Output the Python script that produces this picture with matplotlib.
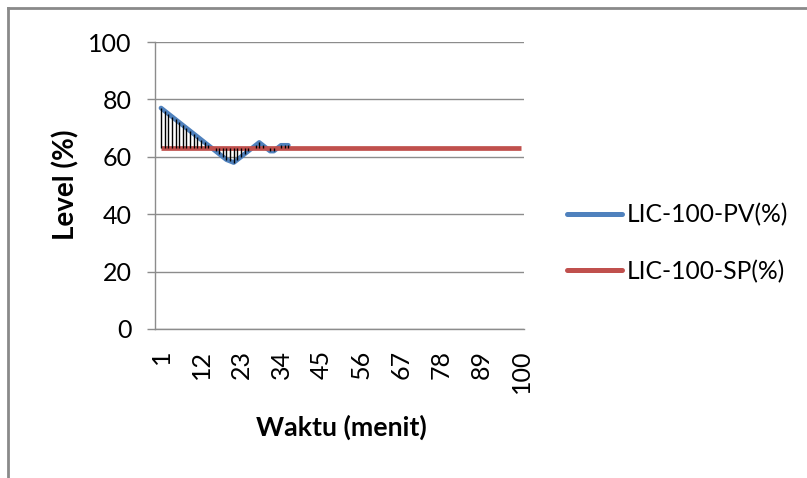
import matplotlib
matplotlib.use("Agg")
import matplotlib.pyplot as plt
from matplotlib.lines import Line2D

plt.rcParams['font.family'] = ['Lato', 'DejaVu Sans']

# Time axis in minutes
minutes = list(range(1, 101))

# Process value (level, %) recorded during the first minutes
pv_minutes = list(range(1, 37))
pv_values = [77, 76, 75, 74, 73, 72, 71, 70, 69, 68,
             67, 66, 65, 64, 63, 62, 61, 60, 59, 58.5,
             58, 59, 60, 61, 62, 63, 64, 65, 64, 63,
             62, 62, 63, 64, 64, 64]

# Set point (level, %)
sp_values = [63] * 100

tick_minutes = [1, 12, 23, 34, 45, 56, 67, 78, 89, 100]
y_ticks = [0, 20, 40, 60, 80, 100]

pv_color = '#4F81BD'
sp_color = '#C0504D'
grid_color = '#8c8c8c'

fig = plt.figure(figsize=(8.07, 4.78), dpi=100)
W, H = 807, 478
ax = fig.add_axes([155 / W, 1 - 329 / H, 369 / W, 287 / H])

ax.plot(pv_minutes, pv_values, color=pv_color, lw=3.4,
        solid_capstyle='round', solid_joinstyle='round',
        label='LIC-100-PV(%)', zorder=3)
ax.plot(minutes, sp_values, color=sp_color, lw=3.4,
        solid_capstyle='butt', label='LIC-100-SP(%)', zorder=4)

# High-low lines between the two series
sp_at_pv = [sp_values[m - 1] for m in pv_minutes]
lows = [min(a, b) for a, b in zip(pv_values, sp_at_pv)]
highs = [max(a, b) for a, b in zip(pv_values, sp_at_pv)]
ax.vlines(pv_minutes, lows, highs, colors='black', lw=1.0, zorder=5)

ax.set_xlim(-0.65, 100.8)
ax.set_ylim(0, 100)
ax.set_yticks(y_ticks)
ax.set_xticks(tick_minutes)
ax.set_xticklabels([str(t) for t in tick_minutes], rotation=90,
                   ha='center', va='top')
ax.yaxis.grid(True, color=grid_color, lw=1.0)
ax.set_axisbelow(True)

for side in ['top', 'right']:
    ax.spines[side].set_visible(False)
for side in ['left', 'bottom']:
    ax.spines[side].set_color(grid_color)
    ax.spines[side].set_linewidth(1.0)

ax.tick_params(axis='y', length=6, width=1.0, color=grid_color,
               labelsize=18, pad=11, labelcolor='black')
ax.tick_params(axis='x', length=0, labelsize=18, pad=15,
               labelcolor='black')

fig.text(66 / W, 1 - 185 / H, 'Level (%)', rotation=90, ha='center',
         va='center', fontsize=20, fontweight='bold')
fig.text(341 / W, 1 - 427 / H, 'Waktu (menit)', ha='center',
         va='center', fontsize=19.3, fontweight='bold')

handles = [Line2D([0], [0], color=pv_color, lw=3.6, solid_capstyle='round'),
           Line2D([0], [0], color=sp_color, lw=3.6, solid_capstyle='round')]
fig.legend(handles, ['LIC-100-PV(%)', 'LIC-100-SP(%)'],
           loc='center left', bbox_to_anchor=(557 / W, 1 - 243 / H),
           frameon=False, fontsize=17.7, handlelength=2.25,
           handletextpad=0.2, labelspacing=1.35, borderaxespad=0)

# Chart area frame (top and left edges)
fig.add_artist(Line2D([8 / W, 1], [1 - 8 / H, 1 - 8 / H],
                      transform=fig.transFigure, color='#8a8a8a', lw=2))
fig.add_artist(Line2D([8 / W, 8 / W], [0, 1 - 8 / H],
                      transform=fig.transFigure, color='#8a8a8a', lw=2))

fig.savefig('out.png', dpi=100, facecolor='white')
